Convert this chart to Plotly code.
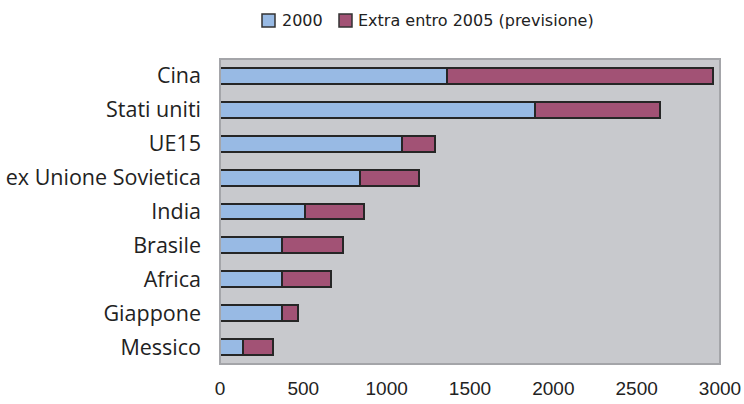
import plotly.graph_objects as go

# Categories (top to bottom) and stacked values
categories = ["Cina", "Stati uniti", "UE15", "ex Unione Sovietica", "India",
              "Brasile", "Africa", "Giappone", "Messico"]
values_2000 = [1360, 1890, 1090, 840, 510, 370, 370, 370, 140]
values_extra = [1595, 750, 200, 355, 355, 370, 295, 100, 180]
series_names = ["2000", "Extra entro 2005 (previsione)"]
series_colors = ["#98BAE4", "#A25275"]
x_ticks = [0, 500, 1000, 1500, 2000, 2500, 3000]

fig = go.Figure()
for name, vals, col in zip(series_names, [values_2000, values_extra], series_colors):
    fig.add_trace(go.Bar(
        y=categories, x=vals, name=name, orientation="h",
        width=0.47,
        marker=dict(color=col, line=dict(color="#262626", width=2)),
        showlegend=False,
    ))

# Hand-drawn legend above the plot area (paper coordinates)
L, W, T, H = 220, 500, 59, 305
def px_x(p):
    return (p - L) / W
def px_y(p):
    return 1 + (T - p) / H

legend_boxes = [(262, 280), (339, 356)]
shapes = []
annotations = []
for (sq_x, txt_x), name, col in zip(legend_boxes, series_names, series_colors):
    shapes.append(dict(type="rect", xref="paper", yref="paper",
                       x0=px_x(sq_x), x1=px_x(sq_x + 13),
                       y0=px_y(27), y1=px_y(14),
                       fillcolor=col, line=dict(color="#333333", width=1.5)))
    annotations.append(dict(xref="paper", yref="paper", x=px_x(txt_x), y=px_y(20.5),
                            xanchor="left", yanchor="middle", showarrow=False,
                            text=name, font=dict(family="DejaVu Sans", size=16, color="#222222")))

# Plot area frame
shapes.append(dict(type="rect", xref="paper", yref="paper", x0=0, x1=1, y0=0, y1=1,
                   line=dict(color="#A4A5A9", width=2), fillcolor="rgba(0,0,0,0)"))

fig.update_layout(
    width=744, height=404,
    margin=dict(l=220, r=24, t=59, b=40),
    barmode="stack",
    paper_bgcolor="white",
    plot_bgcolor="#C8C9CD",
    shapes=shapes,
    annotations=annotations,
    xaxis=dict(range=[0, 3000], tickvals=x_ticks, showgrid=False, zeroline=False,
               showline=False, ticks="", ticklabelstandoff=11, automargin=False,
               tickfont=dict(family="Liberation Sans", size=19, color="#222222")),
    yaxis=dict(categoryorder="array", categoryarray=categories, autorange="reversed",
               showgrid=False, zeroline=False, showline=False, ticks="",
               ticklabelstandoff=18, automargin=False,
               tickfont=dict(family="Open Sans", size=21.5, color="#222222")),
)

fig.write_html("out.html")
